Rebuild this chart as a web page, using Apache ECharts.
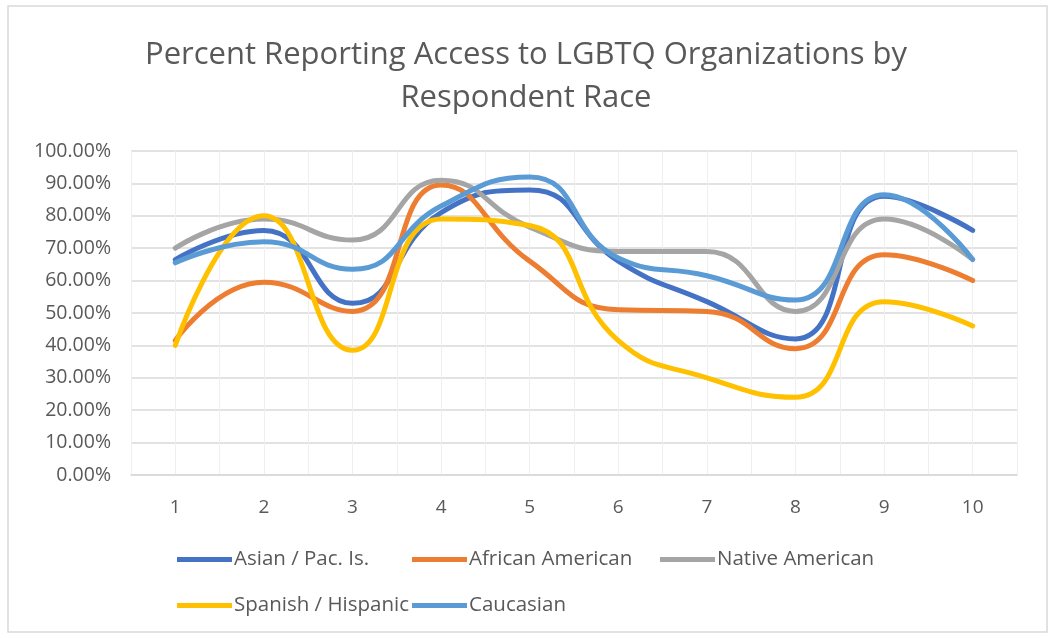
<!DOCTYPE html>
<html>
<head>
<meta charset="utf-8">
<script src="https://cdn.jsdelivr.net/npm/echarts@6/dist/echarts.min.js"></script>
<style>
html, body { margin: 0; padding: 0; background: #fff; }
#chart { width: 1052px; height: 638px; }
</style>
</head>
<body>
<div id="chart"></div>
<script>
// values, in percent
var categories = ['1', '2', '3', '4', '5', '6', '7', '8', '9', '10'];
var asian     = [66.5, 75.5, 53, 81, 88, 66, 53.5, 42, 86, 75.5];
var african   = [41.5, 59.5, 50.5, 89.5, 66, 51, 50.5, 39, 68, 60];
var native    = [70, 79, 72.5, 91, 76.5, 69, 69, 50.5, 79, 66.5];
var hispanic  = [40, 80, 38.5, 79, 77, 41.5, 30, 24, 53.5, 46];
var caucasian = [65.5, 72, 63.5, 83, 92, 67, 61.5, 54, 86.5, 66.5];
var seriesNames = ['Asian / Pac. Is.', 'African American', 'Native American', 'Spanish / Hispanic', 'Caucasian'];

var colors = ['#4472C4', '#ED7D31', '#A5A5A5', '#FFC000', '#5B9BD5'];
var font = '"Open Sans", sans-serif';
var txt = '#595959';

var myChart = echarts.init(document.getElementById('chart'));

function line(name, data, i) {
    return {
        name: name,
        type: 'line',
        data: data,
        smooth: 0.5,
        symbol: 'none',
        lineStyle: { width: 5, color: colors[i], cap: 'round' },
        itemStyle: { color: colors[i] }
    };
}

// one legend per item so they sit in Excel's grid
var legendPos = [[177, 549], [412, 549], [660, 549], [177, 595], [412, 595]];
var legends = seriesNames.map(function (n, i) {
    return {
        data: [n],
        left: legendPos[i][0],
        top: legendPos[i][1],
        icon: 'rect',
        itemWidth: 55,
        itemHeight: 5,
        padding: 0,
        selectedMode: false,
        textStyle: { fontFamily: font, fontSize: 20.5, color: txt, padding: [0, 0, 0, -3] }
    };
});

option = {
    animation: false,
    color: colors,
    title: {
        text: 'Percent Reporting Access to LGBTQ Organizations by\nRespondent Race',
        left: 'center',
        top: 29,
        textStyle: {
            fontFamily: font,
            fontSize: 31,
            fontWeight: 'normal',
            color: txt,
            lineHeight: 43
        }
    },
    legend: legends,
    graphic: [{
        type: 'rect',
        shape: { x: 8, y: 6, width: 1039, height: 626 },
        style: { fill: 'none', stroke: '#d9d9d9', lineWidth: 1.5 },
        silent: true
    }],
    grid: { left: 131, right: 35, top: 151, bottom: 163 },
    xAxis: [
        {
            type: 'category',
            data: categories,
            boundaryGap: true,
            axisLine: { lineStyle: { color: '#d9d9d9', width: 1.5 } },
            axisTick: { show: false },
            splitLine: { show: false },
            axisLabel: { fontFamily: font, fontSize: 19, color: txt, margin: 23 }
        },
        {
            // light vertical grid at every half category
            type: 'value',
            min: 0,
            max: 20,
            interval: 1,
            position: 'bottom',
            axisLine: { show: false },
            axisTick: { show: false },
            axisLabel: { show: false },
            splitLine: { show: true, lineStyle: { color: '#efefef', width: 1 } }
        }
    ],
    yAxis: {
        type: 'value',
        min: 0,
        max: 100,
        interval: 10,
        axisLine: { show: false },
        axisTick: { show: false },
        axisLabel: {
            fontFamily: font,
            fontSize: 19.5,
            color: txt,
            margin: 20,
            formatter: function (v) { return v.toFixed(2) + '%'; }
        },
        splitLine: { lineStyle: { color: '#d9d9d9', width: 1.5 } }
    },
    series: [
        line(seriesNames[0], asian, 0),
        line(seriesNames[1], african, 1),
        line(seriesNames[2], native, 2),
        line(seriesNames[3], hispanic, 3),
        line(seriesNames[4], caucasian, 4)
    ]
};
myChart.setOption(option);
</script>
</body>
</html>
